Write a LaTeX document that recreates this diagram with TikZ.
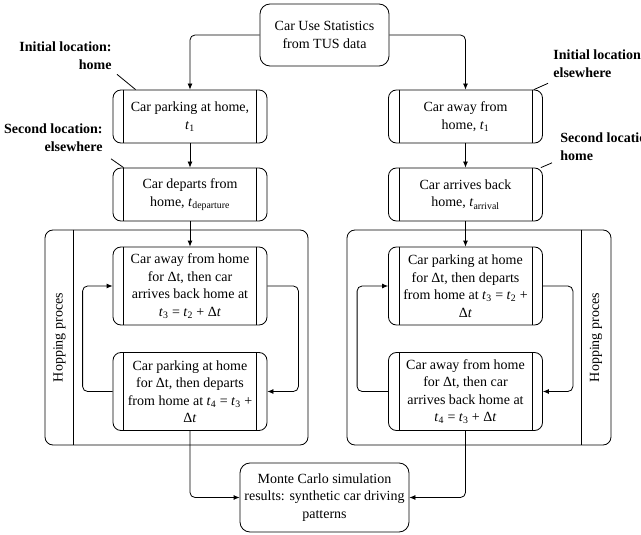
\documentclass[tikz,border=0pt]{standalone}
\usepackage{fontspec}
\setmainfont{Liberation Serif}
\usetikzlibrary{arrows.meta,positioning}
\newcommand{\tsub}[1]{\textit{t}\textsubscript{#1}}

\begin{document}
\begin{tikzpicture}[
  x=1pt, y=-1pt, line width=0.8pt,
  font=\fontsize{14}{17.5}\selectfont,
  start/.style={draw, rounded corners=10pt, minimum width=129pt, minimum height=62pt, align=center, inner sep=2pt, fill=white},
  proc/.style={draw, rounded corners=8pt, minimum width=154pt, minimum height=53pt, align=center, inner sep=2pt, fill=white},
  hop/.style={proc, minimum height=78pt},
  group/.style={draw, rounded corners=8pt, minimum width=263pt, minimum height=215pt},
  tag/.style={font=\fontsize{14}{18}\selectfont\bfseries, inner sep=1pt},
  arr/.style={-{Latex[length=6pt, width=5pt]}, rounded corners=5pt}
]
  \useasboundingbox (0,0) rectangle (641,535);
  \clip (0,0) rectangle (641,535);

  \node[group] (lgroup) at (176.5,337.5) {};
  \node[group, minimum width=264pt] (rgroup) at (479,337.5) {};
  \draw ([xshift=29pt]lgroup.north west) -- ([xshift=29pt]lgroup.south west);
  \draw ([xshift=-30pt]rgroup.north east) -- ([xshift=-30pt]rgroup.south east);
  \node[rotate=90] (lhop) at (59.5,337.5) {Hopping proces};
  \node[rotate=90] (rhop) at (596,337.5) {Hopping proces};

  \node[start] (stats) at (324.5,35) {Car Use Statistics\\from TUS data};

  \node[proc] (lpark) at (190,116.5) {Car parking at home,\\\tsub{1}};
  \node[proc] (ldep) at (190,194.5) {Car departs from\\home, \tsub{departure}};
  \node[hop] (lhopA) at (190,286) {Car away from home\\for Δt, then car\\arrives back home at\\\tsub{3} = \tsub{2} + Δ\textit{t}};
  \node[hop] (lhopB) at (190,391.5) {Car parking at home\\for Δt, then departs\\from home at \tsub{4} = \tsub{3} +\\Δ\textit{t}};

  \node[proc] (rpark) at (465.5,116.5) {Car away from\\home, \tsub{1}};
  \node[proc] (rdep) at (465.5,194.5) {Car arrives back\\home, \tsub{arrival}};
  \node[hop] (rhopA) at (465.5,286) {Car parking at home\\for Δt, then departs\\from home at \tsub{3} = \tsub{2} +\\Δ\textit{t}};
  \node[hop] (rhopB) at (465.5,391.5) {Car away from home\\for Δt, then car\\arrives back home at\\\tsub{4} = \tsub{3} + Δ\textit{t}};

  \node[start, minimum width=169pt, minimum height=69pt] (mc) at (324.5,497.5) {Monte Carlo simulation\\results: synthetic car driving\\patterns};

  \foreach \n in {lpark,ldep,lhopA,lhopB,rpark,rdep,rhopA,rhopB}
    \draw ([xshift=11pt]\n.north west) -- ([xshift=11pt]\n.south west)
          ([xshift=-11pt]\n.north east) -- ([xshift=-11pt]\n.south east);

  \node[tag, anchor=east, align=right] (initL) at (113,56) {Initial location:\\home};
  \node[tag, anchor=east, align=right] (secL) at (104,137.5) {Second location:\\elsewhere};
  \node[tag, anchor=west, align=left] (initR) at (552,64) {Initial location:\\elsewhere};
  \node[tag, anchor=west, align=left] (secR) at (559,146.5) {Second location:\\home};

  \draw ([shift={(4,3)}]initL.south east) -- ([xshift=23pt]lpark.north west);
  \draw ([shift={(7,6)}]secL.south east) -- ([xshift=11pt]ldep.north west);
  \draw ([shift={(-4,4)}]initR.south west) -- ([xshift=-9pt]rpark.north east);
  \draw ([shift={(-7,1)}]secR.south west) -- ([xshift=-2pt]rdep.north east);

  \draw[arr] (stats.west) -| (lpark.north);
  \draw[arr] (stats.east) -| (rpark.north);
  \draw[arr] (lpark) -- (ldep);
  \draw[arr] (ldep) -- (lhopA);
  \draw[arr] (rpark) -- (rdep);
  \draw[arr] (rdep) -- (rhopA);
  \draw[arr] (lhopB.west) -- ++(-30,0) |- (lhopA.west);
  \draw[arr] (lhopA.east) -- ++(31,0) |- (lhopB.east);
  \draw[arr] (rhopB.west) -- ++(-31,0) |- (rhopA.west);
  \draw[arr] (rhopA.east) -- ++(30,0) |- (rhopB.east);
  \draw[arr] (lhopB.south) |- (mc.west);
  \draw[arr] (rhopB.south) |- (mc.east);
\end{tikzpicture}
\end{document}
